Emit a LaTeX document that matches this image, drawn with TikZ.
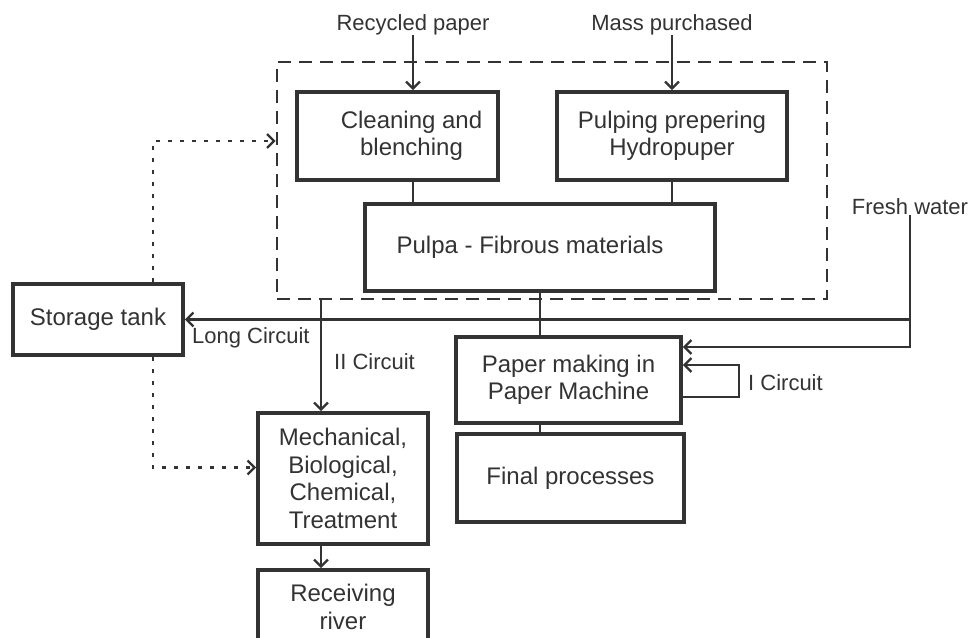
\documentclass[tikz,border=0pt]{standalone}
\usepackage{fontspec}
\setmainfont{Liberation Sans}
\usetikzlibrary{arrows.meta}
\definecolor{ink}{RGB}{51,51,51}

\begin{document}
\begin{tikzpicture}[
      x=1pt, y=-1pt,
      box/.style={draw=ink, line width=3.6pt, text=ink, align=center, inner sep=0pt,
        font=\fontsize{24}{27.5}\selectfont},
      boxtext/.style={text=ink, align=center, inner sep=0pt, font=\fontsize{24}{27.5}\selectfont},
      lbl/.style={text=ink, inner sep=0pt, font=\fontsize{22}{26}\selectfont},
      link/.style={draw=ink, line width=2.3pt},
      flow/.style={link, -{Straight Barb[length=7pt, width=14pt, line width=2.3pt]}},
      back/.style={flow, line width=2.6pt, dash pattern=on 4pt off 8pt}
    ]
    \useasboundingbox (0,0) rectangle (971,637);
    \fill[white] (0,0) rectangle (971,637);

    \node[draw=ink, line width=2.6pt, dash pattern=on 13pt off 8pt,
      minimum width=550, minimum height=237] (group) at (552,180.5) {};

    \node[box, minimum width=201, minimum height=88,
      label={[boxtext, xshift=14pt]center:Cleaning and\\blenching}] (clean) at (397.5,136) {};
    \node[box, minimum width=230, minimum height=88] (pulping) at (672,136) {Pulping prepering\\Hydropuper};
    \node[box, minimum width=350, minimum height=87,
      label={[boxtext, xshift=-10pt]center:Pulpa - Fibrous materials}] (pulpa) at (540,247.5) {};
    \node[box, minimum width=170, minimum height=71] (storage) at (98,319.5) {Storage tank};
    \node[box, minimum width=225, minimum height=86] (paper) at (568.5,380) {Paper making in\\Paper Machine};
    \node[box, minimum width=227, minimum height=88] (final) at (570.5,478) {Final processes};
    \node[box, minimum width=170, minimum height=131] (mech) at (343,478.5)
      {Mechanical,\\Biological,\\Chemical,\\Treatment};
    \node[box, minimum width=170, minimum height=74] (river) at (343,607) {Receiving\\river};

    \node[lbl] (rec) at (413,25) {Recycled paper};
    \node[lbl] (mass) at (672,25) {Mass purchased};
    \node[lbl] (fresh) at (910,207) {Fresh water};
    \node[lbl, anchor=west] (longlbl) at (192,338) {Long Circuit};
    \node[lbl, anchor=west] (iilbl) at (334,362) {II Circuit};
    \node[lbl, anchor=west] (ilbl) at (748,383) {I Circuit};

    \coordinate (ii) at (321,299);
    \coordinate (dt) at (153,0);

    \draw[flow] (rec) -- (clean.north -| rec);
    \draw[flow] (mass) -- (pulping);
    \draw[link] (clean.south -| rec) -- (pulpa.north -| rec);
    \draw[link] (pulping.south) -- (pulping.south |- pulpa.north);
    \draw[link] (pulpa.south) -- (pulpa.south |- paper.north);
    \draw[link] (paper.south -| pulpa.south) -- (final.north -| pulpa.south);
    \draw[flow] (fresh.south) |- ([yshift=33pt]paper.east);
    \draw[flow] (fresh.south |- storage.east) -- (storage.east);
    \draw[flow] ([yshift=-17pt]paper.east) -- ++(56,0) |- ([yshift=15pt]paper.east);
    \draw[flow] (group.south -| ii) -- (mech.north -| ii);
    \draw[flow] (mech.south -| ii) -- (river.north -| ii);
    \draw[back] (storage.north -| dt) |- (group.west |- 0,141);
    \draw[back] (storage.south -| dt) |- ([yshift=11pt]mech.west);
    \end{tikzpicture}
\end{document}
